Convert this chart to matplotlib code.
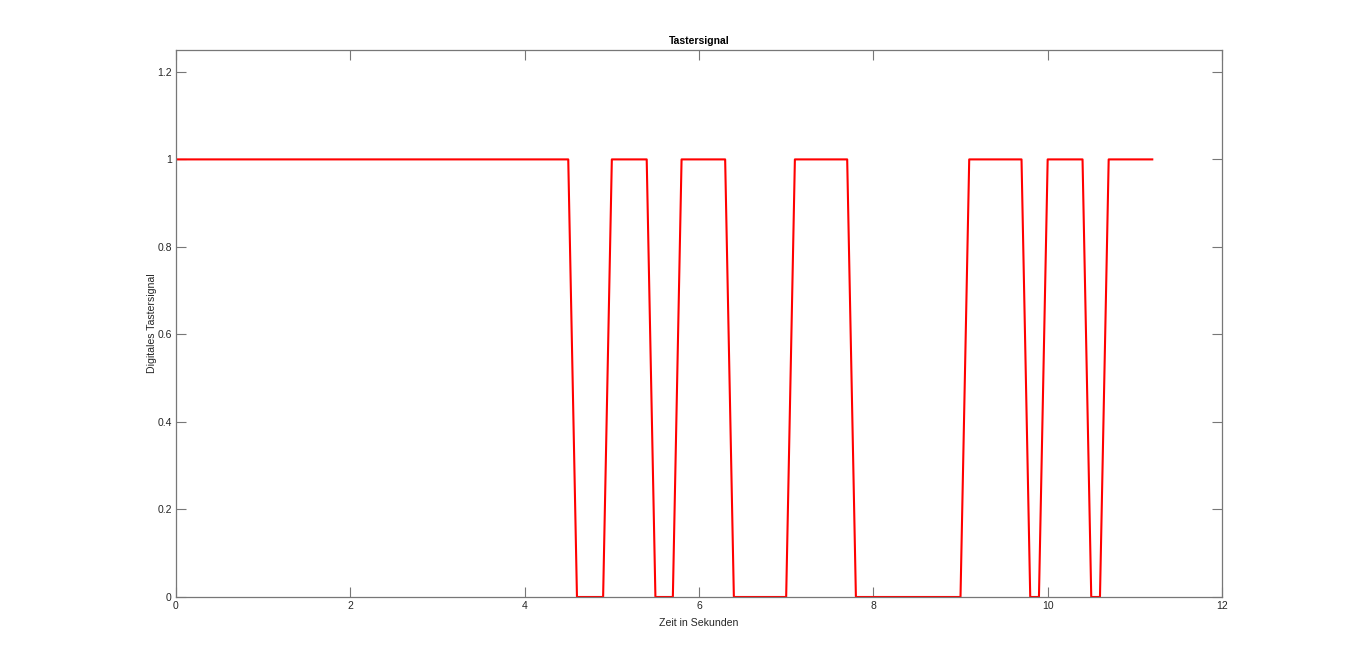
import matplotlib
matplotlib.use("Agg")
import matplotlib.pyplot as plt
from matplotlib.ticker import FormatStrFormatter

plt.rcParams['font.family'] = ['Liberation Sans', 'DejaVu Sans']

# Signal breakpoints (time in s, digital value)
times = [0.0, 4.5, 4.6, 4.9, 5.0, 5.4, 5.5, 5.7, 5.8, 6.3, 6.4, 7.0, 7.1, 7.7, 7.8,
         9.0, 9.1, 9.7, 9.8, 9.9, 10.0, 10.4, 10.5, 10.6, 10.7, 11.2]
values = [1, 1, 0, 0, 1, 1, 0, 0, 1, 1, 0, 0, 1, 1, 0,
          0, 1, 1, 0, 0, 1, 1, 0, 0, 1, 1]

xticks = [0, 2, 4, 6, 8, 10, 12]
yticks = [0, 0.2, 0.4, 0.6, 0.8, 1.0, 1.2]

fig = plt.figure(figsize=(13.5, 6.71), dpi=100)
ax = fig.add_axes([176/1350, 1-597/671, (1222-176)/1350, (597-50)/671])
ax.plot(times, values, color='red', linewidth=1.5)
ax.set_xlim(0, 12)
ax.set_ylim(0, 1.25)
ax.set_xticks(xticks)
ax.set_yticks(yticks)
ax.yaxis.set_major_formatter(FormatStrFormatter('%g'))
axcol = '#262626'
for s in ax.spines.values():
    s.set_color('#777777')
    s.set_linewidth(0.9)
ax.tick_params(direction='in', top=True, right=True, length=7, width=0.8,
               colors='#777777', labelcolor=axcol, labelsize=7.5, pad=3)
ax.set_title('Tastersignal', fontsize=7.5, fontweight='bold', color='black', pad=4)
ax.set_xlabel('Zeit in Sekunden', fontsize=7.6, color=axcol, labelpad=5)
ax.set_ylabel('Digitales Tastersignal', fontsize=7.6, color=axcol, labelpad=0)
fig.savefig('out.png', dpi=100, facecolor='white')
